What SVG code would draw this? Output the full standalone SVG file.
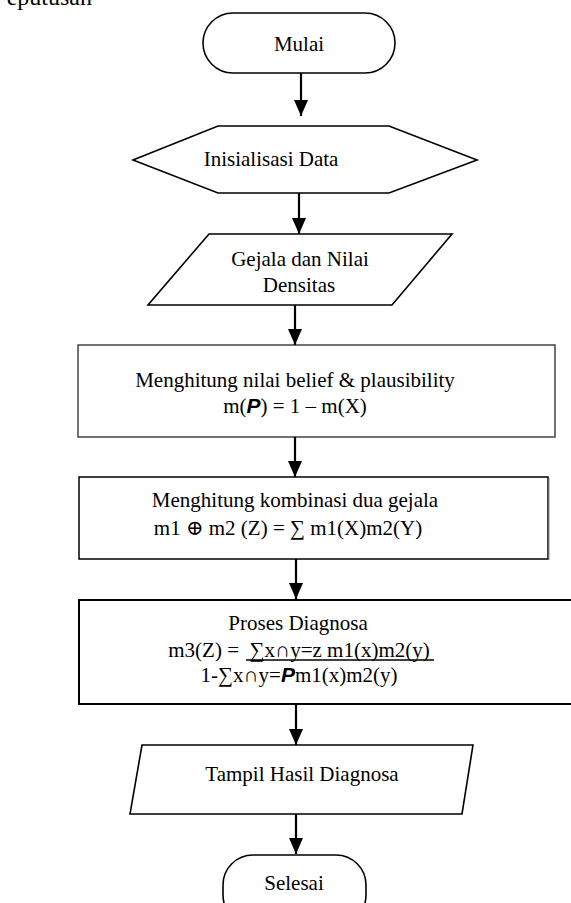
<svg xmlns="http://www.w3.org/2000/svg" width="571" height="903" viewBox="0 0 571 903">
<defs>
<marker id="ah" viewBox="0 0 16 14" refX="16" refY="7" markerWidth="16" markerHeight="14" markerUnits="userSpaceOnUse" orient="auto">
<path d="M0,0 L16,7 L0,14 z" fill="#000"/>
</marker>
</defs>
<style>
text{font-family:"Liberation Serif","Times New Roman","DejaVu Serif",serif;font-size:21px;fill:#000}
.c{text-anchor:middle}
.shape{fill:#fff;stroke:#000;stroke-width:1.6}
.conn line{stroke:#000;stroke-width:2.2;marker-end:url(#ah)}
.bp{font-family:"Liberation Sans",Arial,sans-serif;font-weight:bold;font-style:italic}
</style>
<rect width="571" height="903" fill="#fff"/>
<text x="92" y="5" style="text-anchor:end;font-size:24px">eputusan</text>

<g id="mulai">
<rect class="shape" x="203" y="13" width="192" height="60" rx="30"/>
<text class="c" x="299" y="51">Mulai</text>
</g>

<g id="inisialisasi">
<polygon class="shape" points="133,160 218,126 389,126 477,160 389,193 218,193"/>
<text class="c" x="271" y="166">Inisialisasi Data</text>
</g>

<g id="gejala">
<polygon class="shape" points="209,234 452,234 392,305 148,305"/>
<text class="c" x="300" y="266">Gejala dan Nilai</text>
<text class="c" x="299" y="292">Densitas</text>
</g>

<g id="belief">
<rect x="78" y="345" width="477" height="92" fill="#fff" stroke="#444" stroke-width="1.5"/>
<text class="c" x="295" y="387">Menghitung nilai belief &amp; plausibility</text>
<text class="c" x="295" y="413">m(<tspan class="bp">P</tspan>) = 1 – m(X)</text>
</g>

<g id="kombinasi">
<rect x="79" y="477" width="469" height="82" fill="#fff" stroke="#000" stroke-width="1.5"/>
<line x1="549" y1="478" x2="549" y2="560" stroke="#888" stroke-width="1"/>
<text class="c" x="295" y="507">Menghitung kombinasi dua gejala</text>
<text class="c" x="288" y="535">m1 ⊕ m2 (Z) = ∑ m1(X)m2(Y)</text>
</g>

<g id="diagnosa">
<rect x="79" y="600" width="500" height="104" fill="#fff" stroke="#000" stroke-width="2"/>
<text class="c" x="298" y="630">Proses Diagnosa</text>
<text class="c" x="299" y="657" xml:space="preserve">m3(Z) =  ∑x∩y=z m1(x)m2(y)</text>
<line x1="246" y1="660" x2="434" y2="660" stroke="#000" stroke-width="1.3"/>
<text class="c" x="299" y="682">1-∑x∩y=<tspan class="bp">P</tspan>m1(x)m2(y)</text>
</g>

<g id="tampil">
<polygon class="shape" points="142,745 473,745 462,814 130,814"/>
<text class="c" x="302" y="781">Tampil Hasil Diagnosa</text>
</g>

<g id="selesai">
<rect class="shape" x="223" y="855" width="143" height="70" rx="30"/>
<text class="c" x="294" y="890">Selesai</text>
</g>

<g class="conn">
<line x1="301" y1="73" x2="301" y2="116"/>
<line x1="299" y1="193" x2="299" y2="234"/>
<line x1="295" y1="305" x2="295" y2="345"/>
<line x1="295" y1="437" x2="295" y2="477"/>
<line x1="296" y1="559" x2="296" y2="599"/>
<line x1="296" y1="704" x2="296" y2="745"/>
<line x1="296" y1="814" x2="296" y2="854"/>
</g>
</svg>
